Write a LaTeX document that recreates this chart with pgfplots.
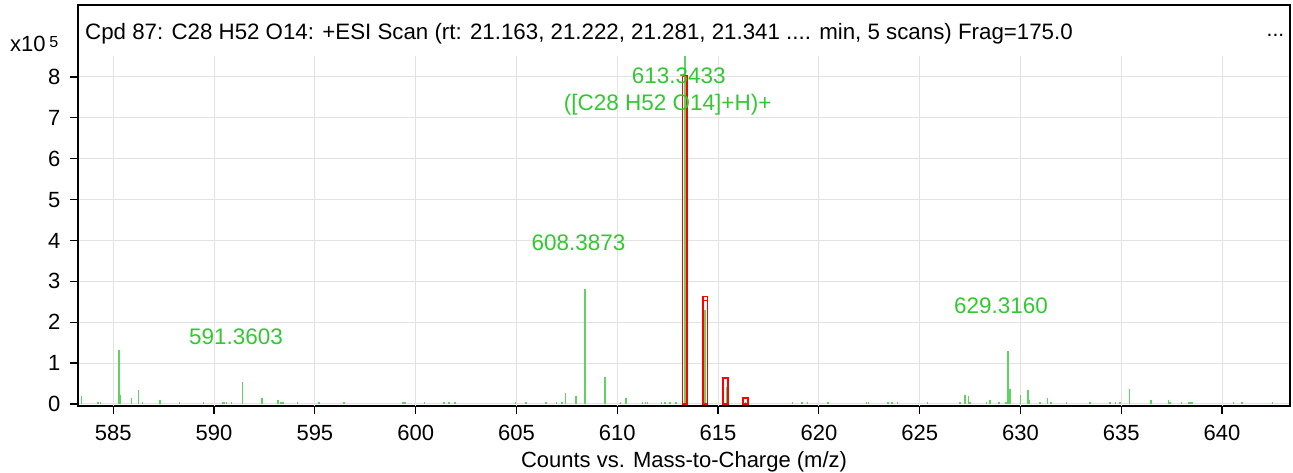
\documentclass[border=0pt]{standalone}
\usepackage{pgfplots}
\pgfplotsset{compat=1.18}
\usepackage{fontspec}
\setmainfont{Liberation Sans}
\definecolor{specgreen}{RGB}{95,210,95}
\definecolor{labgreen}{RGB}{50,200,50}
\definecolor{gridgray}{RGB}{226,226,226}
\pgfplotstableread{
mz int
583.43 0.19
584.23 0.06
584.37 0.06
585.28 1.33
585.37 0.23
585.91 0.15
586.26 0.33
586.44 0.06
587.32 0.10
588.29 0.05
589.47 0.06
590.41 0.06
590.49 0.06
590.62 0.06
590.87 0.06
591.40 0.54
592.38 0.14
593.17 0.10
593.33 0.06
593.43 0.06
594.15 0.05
595.20 0.05
596.44 0.05
599.38 0.06
599.47 0.06
600.43 0.05
601.40 0.05
601.66 0.05
601.95 0.05
604.95 0.05
605.47 0.06
606.46 0.05
606.99 0.05
607.25 0.05
607.42 0.27
607.95 0.19
608.40 2.81
609.39 0.67
610.17 0.05
610.43 0.15
611.24 0.06
611.41 0.06
611.49 0.06
612.20 0.06
612.37 0.06
612.61 0.06
612.90 0.06
613.36 8.52
614.35 2.29
615.43 0.42
616.37 0.05
618.70 0.05
619.15 0.05
619.44 0.05
620.44 0.05
622.37 0.05
622.45 0.05
623.44 0.05
623.63 0.05
623.89 0.05
625.38 0.05
626.99 0.06
627.24 0.23
627.41 0.19
627.49 0.06
628.32 0.06
628.49 0.10
628.94 0.06
629.29 0.06
629.38 1.29
629.48 0.37
630.01 0.23
630.36 0.33
630.44 0.10
630.97 0.06
631.33 0.15
631.52 0.06
632.29 0.05
633.46 0.05
634.44 0.05
634.72 0.05
634.93 0.05
635.40 0.37
636.47 0.10
637.33 0.10
637.42 0.06
637.99 0.05
638.33 0.06
638.42 0.06
638.50 0.06
640.56 0.05
640.99 0.05
642.49 0.05
}\spectrum
\pgfplotstableread{
mz int
613.35 8.03
614.36 2.63
614.36 2.53
615.36 0.63
616.37 0.15
}\isotopes
\begin{document}
\begin{tikzpicture}[font=\fontsize{22}{26}\selectfont]
\useasboundingbox (0pt,0pt) rectangle (1293pt,473pt);
\begin{axis}[
  at={(78pt,67pt)}, anchor=south west,
  scale only axis, width=1212pt, height=401pt,
  xmin=583.25, xmax=643.37, ymin=-0.05, ymax=9.76,
  xtick={585,590,...,640}, ytick={0,1,...,8},
  xtick pos=left, ytick pos=left,
  tick align=outside, major tick length=8pt,
  tick style={black, line width=1.2pt},
  ymajorgrids, grid style={gridgray, line width=1pt},
  axis line style={black, line width=1.5pt},
  /pgf/number format/assume math mode=true,
  /pgf/number format/1000 sep={},
  tick label style={font=\fontsize{22}{26}\selectfont},
  xticklabel style={yshift=-8pt},
  yticklabel style={xshift=-6pt},
  xlabel={Counts vs. Mass-to-Charge (m/z)},
  xlabel style={font=\fontsize{22}{26}\selectfont, at={(axis description cs:0.5,0)}, anchor=center, yshift=-56pt},
]
\pgfplotsinvokeforeach{585,590,...,640}{
  \draw[gridgray, line width=1pt] (axis cs:#1,-0.05) -- (axis cs:#1,8.52);
}
\addplot[ycomb, specgreen, line width=1.5pt, mark=none] table[x=mz,y=int] {\spectrum};
\addplot[ybar, bar width=0.24, draw=red, fill=none, line width=1.6pt] table[x=mz,y=int] {\isotopes};
\node[labgreen, font=\fontsize{22.5}{26}\selectfont] at (axis cs:613.05,8.03) {613.3433};
\node[labgreen, font=\fontsize{22.5}{26}\selectfont] at (axis cs:612.50,7.32) {([C28 H52 O14]+H)+};
\node[labgreen, font=\fontsize{22.5}{26}\selectfont] at (axis cs:608.08,3.94) {608.3873};
\node[labgreen, font=\fontsize{22.5}{26}\selectfont] at (axis cs:591.09,1.65) {591.3603};
\node[labgreen, font=\fontsize{22.5}{26}\selectfont] at (axis cs:629.03,2.40) {629.3160};
\node[anchor=west, font=\fontsize{22.3}{26}\selectfont, inner sep=0pt] at (rel axis cs:0.0058,0.928) {Cpd 87: C28 H52 O14: +ESI Scan (rt: 21.163, 21.222, 21.281, 21.341 .... min, 5 scans) Frag=175.0};
\node[font=\fontsize{21}{25}\selectfont] at (rel axis cs:0.988,0.925) {...};
\end{axis}
\node[anchor=base west, inner sep=0pt] at (10pt,421pt) {x10\,\raisebox{4pt}{\fontsize{16}{18}\selectfont 5}};
\end{tikzpicture}
\end{document}
